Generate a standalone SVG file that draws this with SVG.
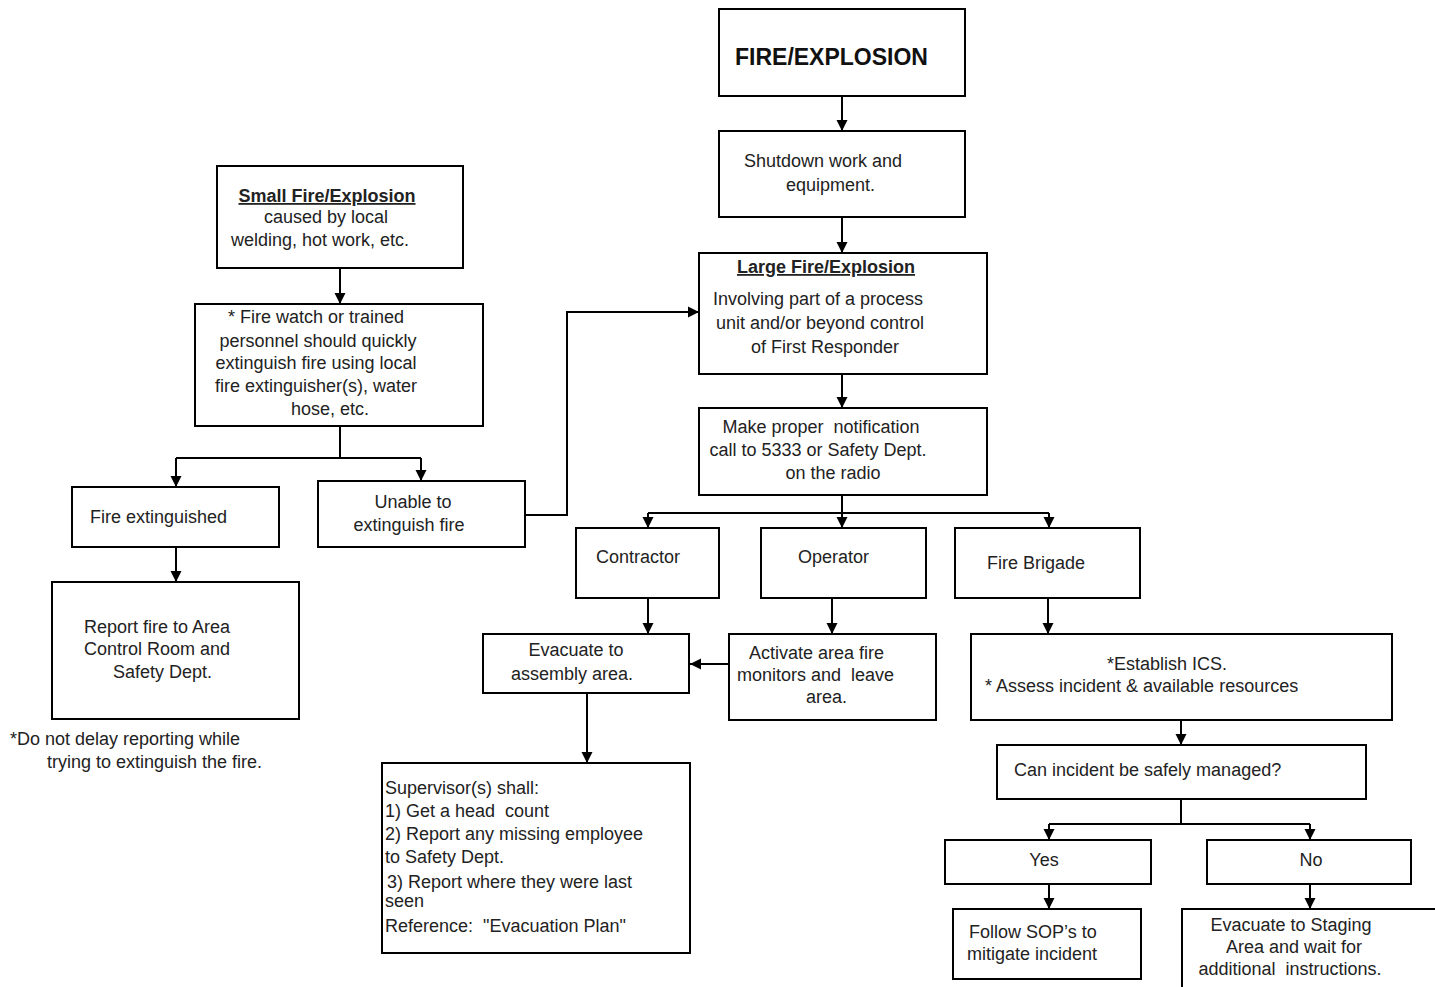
<svg xmlns="http://www.w3.org/2000/svg" width="1435" height="987" viewBox="0 0 1435 987">
<style>
  .box { fill: #ffffff; stroke: #000000; stroke-width: 2; }
  .t { font-family: "Liberation Sans", Arial, sans-serif; font-size: 18px; fill: #222222; white-space: pre; }
  .m { text-anchor: middle; }
  .b { font-weight: bold; text-decoration: underline; }
  .title { font-family: "Liberation Sans", Arial, sans-serif; font-size: 23px; font-weight: bold; fill: #111111; }
  .c { fill: none; stroke: #000000; stroke-width: 2; }
</style>
<defs>
  <marker id="ah" markerUnits="userSpaceOnUse" markerWidth="12" markerHeight="12" refX="11" refY="6" orient="auto">
    <path d="M0,0.5 L11,6 L0,11.5 z" fill="#000000"/>
  </marker>
</defs>
<rect width="1435" height="987" fill="#ffffff"/>

<g id="connectors">
  <path class="c" d="M842,96 V131" marker-end="url(#ah)"/>
  <path class="c" d="M842,217 V253" marker-end="url(#ah)"/>
  <path class="c" d="M842,374 V408" marker-end="url(#ah)"/>
  <path class="c" d="M842,495 V528" marker-end="url(#ah)"/>
  <path class="c" d="M648,513 H1049"/>
  <path class="c" d="M648,513 V528" marker-end="url(#ah)"/>
  <path class="c" d="M1049,513 V528" marker-end="url(#ah)"/>
  <path class="c" d="M648,598 V634" marker-end="url(#ah)"/>
  <path class="c" d="M832,598 V634" marker-end="url(#ah)"/>
  <path class="c" d="M729,664 H690" marker-end="url(#ah)"/>
  <path class="c" d="M587,693 V763" marker-end="url(#ah)"/>
  <path class="c" d="M1048,598 V634" marker-end="url(#ah)"/>
  <path class="c" d="M1181,720 V745" marker-end="url(#ah)"/>
  <path class="c" d="M1181,799 V824 M1049,824 H1310"/>
  <path class="c" d="M1049,824 V840" marker-end="url(#ah)"/>
  <path class="c" d="M1310,824 V840" marker-end="url(#ah)"/>
  <path class="c" d="M1049,884 V909" marker-end="url(#ah)"/>
  <path class="c" d="M1310,884 V909" marker-end="url(#ah)"/>
  <path class="c" d="M340,268 V304" marker-end="url(#ah)"/>
  <path class="c" d="M340,426 V458 M176,458 H421"/>
  <path class="c" d="M176,458 V487" marker-end="url(#ah)"/>
  <path class="c" d="M421,458 V481" marker-end="url(#ah)"/>
  <path class="c" d="M176,547 V582" marker-end="url(#ah)"/>
  <path class="c" d="M525,515 H567 V312 H699" marker-end="url(#ah)"/>
</g>

<g id="fire-explosion">
  <rect class="box" x="719" y="9" width="246" height="87"/>
  <text class="title" x="735" y="65">FIRE/EXPLOSION</text>
</g>

<g id="shutdown">
  <rect class="box" x="719" y="131" width="246" height="86"/>
  <text class="t" x="744" y="167">Shutdown work and</text>
  <text class="t" x="786" y="191">equipment.</text>
</g>

<g id="large-fire">
  <rect class="box" x="699" y="253" width="288" height="121"/>
  <text class="t m b" x="826" y="273">Large Fire/Explosion</text>
  <text class="t m" x="818" y="305">Involving part of a process</text>
  <text class="t m" x="820" y="329">unit and/or beyond control</text>
  <text class="t m" x="825" y="353">of First Responder</text>
</g>

<g id="notification">
  <rect class="box" x="699" y="408" width="288" height="87"/>
  <text class="t m" x="821" y="433" xml:space="preserve">Make proper  notification</text>
  <text class="t m" x="818" y="456">call to 5333 or Safety Dept.</text>
  <text class="t m" x="833" y="479">on the radio</text>
</g>

<g id="contractor">
  <rect class="box" x="576" y="528" width="143" height="70"/>
  <text class="t" x="596" y="563">Contractor</text>
</g>

<g id="operator">
  <rect class="box" x="761" y="528" width="165" height="70"/>
  <text class="t" x="798" y="563">Operator</text>
</g>

<g id="fire-brigade">
  <rect class="box" x="955" y="528" width="185" height="70"/>
  <text class="t" x="987" y="569">Fire Brigade</text>
</g>

<g id="evacuate-assembly">
  <rect class="box" x="483" y="634" width="206" height="59"/>
  <text class="t m" x="576" y="656">Evacuate to</text>
  <text class="t m" x="572" y="680">assembly area.</text>
</g>

<g id="activate">
  <rect class="box" x="729" y="634" width="207" height="86"/>
  <text class="t" x="749" y="659">Activate area fire</text>
  <text class="t" x="737" y="681" xml:space="preserve">monitors and  leave</text>
  <text class="t" x="806" y="703">area.</text>
</g>

<g id="supervisor">
  <rect class="box" x="382" y="763" width="308" height="190"/>
  <text class="t" x="385" y="794">Supervisor(s) shall:</text>
  <text class="t" x="385" y="817" xml:space="preserve">1) Get a head  count</text>
  <text class="t" x="385" y="840">2) Report any missing employee</text>
  <text class="t" x="385" y="863">to Safety Dept.</text>
  <text class="t" x="387" y="888">3) Report where they were last</text>
  <text class="t" x="385" y="907">seen</text>
  <text class="t" x="385" y="932" xml:space="preserve">Reference:  "Evacuation Plan"</text>
</g>

<g id="establish-ics">
  <rect class="box" x="971" y="634" width="421" height="86"/>
  <text class="t m" x="1167" y="670">*Establish ICS.</text>
  <text class="t" x="985" y="692">* Assess incident &amp; available resources</text>
</g>

<g id="can-manage">
  <rect class="box" x="997" y="745" width="369" height="54"/>
  <text class="t" x="1014" y="776">Can incident be safely managed?</text>
</g>

<g id="yes">
  <rect class="box" x="945" y="840" width="206" height="44"/>
  <text class="t m" x="1044" y="866">Yes</text>
</g>

<g id="no">
  <rect class="box" x="1207" y="840" width="204" height="44"/>
  <text class="t m" x="1311" y="866">No</text>
</g>

<g id="follow-sop">
  <rect class="box" x="953" y="909" width="188" height="70"/>
  <text class="t" x="969" y="938">Follow SOP’s to</text>
  <text class="t" x="967" y="960">mitigate incident</text>
</g>

<g id="evacuate-staging">
  <rect class="box" x="1182" y="909" width="270" height="100"/>
  <text class="t m" x="1291" y="931">Evacuate to Staging</text>
  <text class="t m" x="1294" y="953">Area and wait for</text>
  <text class="t m" x="1290" y="975" xml:space="preserve">additional  instructions.</text>
</g>

<g id="small-fire">
  <rect class="box" x="217" y="166" width="246" height="102"/>
  <text class="t m b" x="327" y="202">Small Fire/Explosion</text>
  <text class="t m" x="326" y="223">caused by local</text>
  <text class="t m" x="320" y="246">welding, hot work, etc.</text>
</g>

<g id="fire-watch">
  <rect class="box" x="195" y="304" width="288" height="122"/>
  <text class="t m" x="316" y="323">* Fire watch or trained</text>
  <text class="t m" x="318" y="347">personnel should quickly</text>
  <text class="t m" x="316" y="369">extinguish fire using local</text>
  <text class="t m" x="316" y="392">fire extinguisher(s), water</text>
  <text class="t m" x="330" y="415">hose, etc.</text>
</g>

<g id="fire-extinguished">
  <rect class="box" x="72" y="487" width="207" height="60"/>
  <text class="t" x="90" y="523">Fire extinguished</text>
</g>

<g id="unable">
  <rect class="box" x="318" y="481" width="207" height="66"/>
  <text class="t m" x="413" y="508">Unable to</text>
  <text class="t m" x="409" y="531">extinguish fire</text>
</g>

<g id="report-fire">
  <rect class="box" x="52" y="582" width="247" height="137"/>
  <text class="t" x="84" y="633">Report fire to Area</text>
  <text class="t" x="84" y="655">Control Room and</text>
  <text class="t" x="113" y="678">Safety Dept.</text>
</g>

<g id="note">
  <text class="t" x="10" y="745">*Do not delay reporting while</text>
  <text class="t" x="47" y="768">trying to extinguish the fire.</text>
</g>
</svg>
